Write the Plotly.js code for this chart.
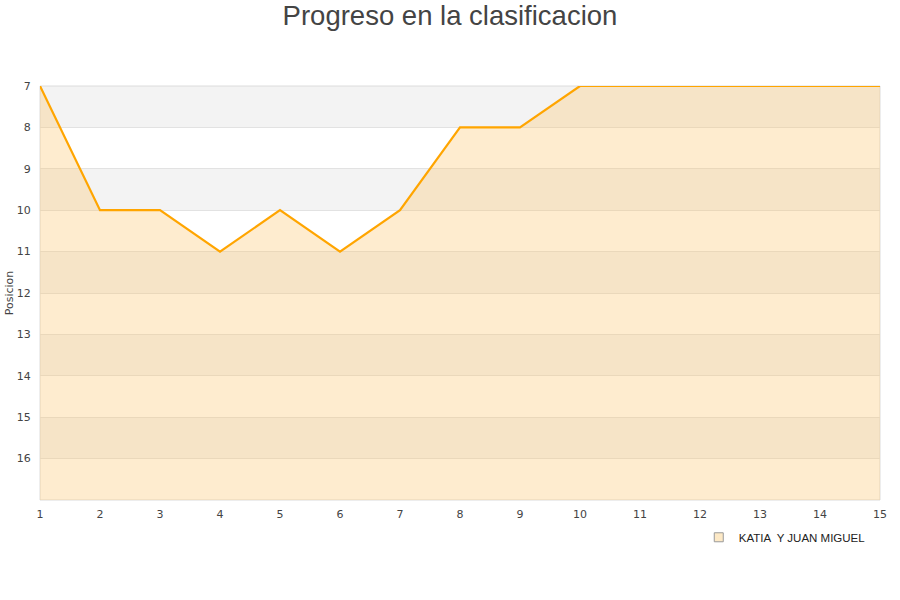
<!DOCTYPE html>
<html><head><meta charset="utf-8">
<script src="https://cdn.plot.ly/plotly-3.0.1.min.js"></script>
<style>html,body{margin:0;padding:0;background:#fff}#chart{width:900px;height:600px}</style>
</head><body><div id="chart"></div>
<script>
const jornadas = [1,2,3,4,5,6,7,8,9,10,11,12,13,14,15];
const posiciones = [7,10,10,11,10,11,10,8,8,7,7,7,7,7,7];
const equipo = "KATIA  Y JUAN MIGUEL";
const yTicks = [7,8,9,10,11,12,13,14,15,16];
const fondo = 17;

const shapes = [];
for (let v = 7; v < fondo; v += 2) {
  shapes.push({type:'rect', xref:'paper', yref:'y', x0:0, x1:1, y0:v, y1:v+1,
    fillcolor:'#f3f3f3', line:{width:0}, layer:'below'});
}
shapes.push({type:'rect', xref:'paper', yref:'paper', x0:0, x1:1, y0:0, y1:1,
  line:{color:'#dcdcdc', width:1}, fillcolor:'rgba(0,0,0,0)', layer:'below'});

const traces = [
  {x: jornadas, y: jornadas.map(() => fondo), mode:'lines', line:{width:0}, hoverinfo:'skip', showlegend:false},
  {x: jornadas, y: posiciones, mode:'lines', fill:'tonexty', fillcolor:'rgba(252,198,108,0.33)',
   line:{color:'#ffa500', width:2.2}, showlegend:false, name:equipo},
  {x:[null], y:[null], mode:'markers', name:equipo,
   marker:{symbol:'square', size:9, color:'#fde9c6', line:{color:'#999', width:1}}}
];

const layout = {
  width:900, height:600,
  margin:{l:40, r:20, t:86, b:100},
  paper_bgcolor:'#fff', plot_bgcolor:'#fff',
  title:{text:'Progreso en la clasificacion', x:0.5, xanchor:'center', y:0.99, yanchor:'top',
    font:{family:'Liberation Sans, Arial, sans-serif', size:27.5, color:'#444'}},
  font:{family:'DejaVu Sans, sans-serif', size:11, color:'#444'},
  xaxis:{range:[1,15], tickvals:jornadas, showgrid:false, zeroline:false, showline:false,
    ticks:'outside', ticklen:4, tickcolor:'rgba(0,0,0,0)', tickfont:{size:11, color:'#444'}},
  yaxis:{range:[fondo,7], tickvals:yTicks, showgrid:true, gridcolor:'#e2e2e2', gridwidth:1,
    zeroline:false, showline:false, ticks:'outside', ticklen:6, tickcolor:'rgba(0,0,0,0)',
    tickfont:{size:11, color:'#444'},
    title:{text:'Posicion', font:{size:11, color:'#444'}, standoff:0}},
  shapes: shapes,
  showlegend:true,
  legend:{orientation:'h', x:0.989, xanchor:'right', y:-0.055, yanchor:'top',
    font:{family:'Liberation Sans, Arial, sans-serif', size:11.5, color:'#222'}, bgcolor:'rgba(0,0,0,0)'}
};

Plotly.newPlot('chart', traces, layout, {displayModeBar:false, staticPlot:true});
</script></body></html>
